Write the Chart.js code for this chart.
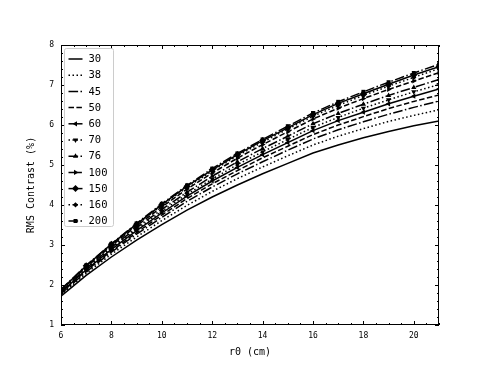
<!DOCTYPE html>
<html>
<head>
<meta charset="utf-8">
<script src="https://cdn.jsdelivr.net/npm/chart.js@4.4.0/dist/chart.umd.min.js"></script>
<style>
  html, body { margin: 0; padding: 0; background: #fff; }
  #wrap { width: 488px; height: 366px; }
</style>
</head>
<body>
<div id="wrap"><canvas id="chart" width="488" height="366"></canvas></div>
<script>
// r0 values (cm)
const r0 = [6, 7, 8, 9, 10, 11, 12, 13, 14, 15, 16, 17, 18, 19, 20, 21];

// RMS contrast (%) per series
const c30  = [1.72, 2.24, 2.70, 3.12, 3.51, 3.87, 4.20, 4.50, 4.78, 5.04, 5.30, 5.50, 5.68, 5.84, 5.98, 6.10];
const c38  = [1.75, 2.29, 2.77, 3.20, 3.61, 3.99, 4.34, 4.66, 4.95, 5.23, 5.50, 5.72, 5.91, 6.09, 6.24, 6.38];
const c45  = [1.78, 2.33, 2.82, 3.27, 3.69, 4.09, 4.45, 4.78, 5.08, 5.37, 5.65, 5.88, 6.08, 6.27, 6.44, 6.60];
const c50  = [1.80, 2.36, 2.85, 3.31, 3.75, 4.16, 4.53, 4.86, 5.18, 5.47, 5.76, 6.00, 6.21, 6.41, 6.59, 6.75];
const c60  = [1.82, 2.38, 2.89, 3.36, 3.80, 4.22, 4.60, 4.94, 5.26, 5.56, 5.86, 6.11, 6.32, 6.53, 6.72, 6.90];
const c70  = [1.83, 2.40, 2.91, 3.39, 3.84, 4.27, 4.65, 5.01, 5.33, 5.64, 5.94, 6.19, 6.42, 6.63, 6.83, 7.01];
const c76  = [1.84, 2.42, 2.94, 3.43, 3.89, 4.32, 4.72, 5.08, 5.41, 5.72, 6.03, 6.29, 6.52, 6.74, 6.94, 7.14];
const c100 = [1.87, 2.45, 2.98, 3.48, 3.95, 4.40, 4.80, 5.17, 5.51, 5.83, 6.15, 6.42, 6.66, 6.89, 7.10, 7.31];
const c150 = [1.88, 2.48, 3.02, 3.52, 4.01, 4.47, 4.88, 5.26, 5.61, 5.93, 6.26, 6.54, 6.78, 7.02, 7.25, 7.46];
const c160 = [1.88, 2.47, 3.00, 3.51, 3.99, 4.44, 4.85, 5.23, 5.57, 5.90, 6.22, 6.49, 6.74, 6.97, 7.19, 7.41];
const c200 = [1.89, 2.49, 3.03, 3.54, 4.03, 4.49, 4.91, 5.29, 5.64, 5.97, 6.30, 6.58, 6.83, 7.07, 7.30, 7.52];

const seriesNames = ['30', '38', '45', '50', '60', '70', '76', '100', '150', '160', '200'];
const seriesValues = [c30, c38, c45, c50, c60, c70, c76, c100, c150, c160, c200];

const xTicks = [6, 8, 10, 12, 14, 16, 18, 20];
const yTicks = [1, 2, 3, 4, 5, 6, 7, 8];

// styles (matplotlib-like cycle)
const SOLID = [], DOT = [1.5, 2.5], DASHDOT = [9.6, 2.4, 1.5, 2.4], DASH = [5.5, 2.4];
const dashes = [SOLID, DOT, DASHDOT, DASH, SOLID, DOT, DASHDOT, DASH, SOLID, DOT, DASHDOT];
const markers = [
  null, null, null, null,
  { style: 'triangle', rot: 270, r: 3 },
  { style: 'triangle', rot: 180, r: 3 },
  { style: 'triangle', rot: 0, r: 3 },
  { style: 'triangle', rot: 90, r: 3 },
  { style: 'rectRot', rot: 0, r: 3.5 },
  { style: 'rectRot', rot: 0, r: 2.6 },
  { style: 'rect', rot: 0, r: 2.8 }
];

const datasets = seriesNames.map((name, i) => ({
  label: name,
  data: r0.map((x, k) => ({ x: x, y: seriesValues[i][k] })),
  borderColor: '#000',
  backgroundColor: '#000',
  borderWidth: 1.5,
  borderDash: dashes[i],
  pointStyle: markers[i] ? markers[i].style : 'circle',
  pointRotation: markers[i] ? markers[i].rot : 0,
  pointRadius: markers[i] ? markers[i].r : 0,
  pointBorderWidth: 0,
  tension: 0,
  fill: false
}));

// frame, inward ticks and legend box
const decorPlugin = {
  id: 'decor',
  afterDraw(chart) {
    const { ctx, chartArea: a, scales: { x, y } } = chart;
    ctx.save();
    ctx.strokeStyle = '#000';
    ctx.lineWidth = 1;
    const seg = (x1, y1, x2, y2) => { ctx.beginPath(); ctx.moveTo(x1, y1); ctx.lineTo(x2, y2); ctx.stroke(); };

    // x ticks: major every 2, minor every 0.5
    for (let i = 0; i <= 30; i++) {
      const v = 6 + i * 0.5;
      const px = Math.round(x.getPixelForValue(v)) + 0.5;
      const len = (i % 4 === 0) ? 4 : 2;
      seg(px, a.bottom, px, a.bottom - len);
      seg(px, a.top, px, a.top + len);
    }
    // y ticks: major every 1, minor every 0.2
    for (let i = 0; i <= 35; i++) {
      const v = 1 + i * 0.2;
      const py = Math.round(y.getPixelForValue(v)) + 0.5;
      const len = (i % 5 === 0) ? 4 : 2;
      seg(a.left, py, a.left + len, py);
      seg(a.right, py, a.right - len, py);
    }
    ctx.strokeRect(Math.round(a.left) + 0.5, Math.round(a.top) + 0.5,
      Math.round(a.right - a.left) - 1, Math.round(a.bottom - a.top) - 1);

    // legend
    const bx = a.left + 3.5, by = a.top + 3.5, bw = 49, bh = 178;
    ctx.fillStyle = 'rgba(255,255,255,0.8)';
    ctx.strokeStyle = '#cccccc';
    ctx.beginPath();
    ctx.roundRect(bx, by, bw, bh, 2);
    ctx.fill();
    ctx.stroke();

    ctx.font = '10.5px "DejaVu Sans Mono"';
    ctx.textBaseline = 'middle';
    ctx.textAlign = 'left';
    chart.data.datasets.forEach((ds, i) => {
      const cy = by + 10.5 + i * 16.2;
      ctx.strokeStyle = '#000';
      ctx.fillStyle = '#000';
      ctx.lineWidth = 1.5;
      ctx.setLineDash(ds.borderDash);
      seg(bx + 4, cy, bx + 18, cy);
      ctx.setLineDash([]);
      if (markers[i]) {
        Chart.helpers.drawPoint(ctx, {
          pointStyle: markers[i].style,
          rotation: markers[i].rot,
          radius: markers[i].r,
          borderWidth: 0
        }, bx + 11, cy);
      }
      ctx.fillStyle = '#000';
      ctx.fillText(ds.label, bx + 24, cy + 0.5);
    });
    ctx.restore();
  }
};

const tickFont = { family: '"DejaVu Sans Mono"', size: 8 };
const titleFont = { family: '"DejaVu Sans Mono"', size: 10 };

new Chart(document.getElementById('chart').getContext('2d'), {
  type: 'line',
  data: { datasets: datasets },
  options: {
    responsive: false,
    animation: false,
    devicePixelRatio: 1,
    layout: { padding: { top: 45, right: 49, left: 0, bottom: 0 } },
    plugins: { legend: { display: false }, tooltip: { enabled: false } },
    scales: {
      x: {
        type: 'linear',
        min: 6,
        max: 21,
        afterBuildTicks: s => { s.ticks = xTicks.map(v => ({ value: v })); },
        afterFit: s => { s.height = 41; },
        grid: { display: false, drawTicks: false, tickLength: 0 },
        border: { display: false },
        ticks: { color: '#000', font: tickFont, padding: 6, maxRotation: 0 },
        title: { display: true, text: 'r0 (cm)', color: '#000', font: titleFont, padding: { top: 0, bottom: 8 } }
      },
      y: {
        type: 'linear',
        min: 1,
        max: 8,
        afterBuildTicks: s => { s.ticks = yTicks.map(v => ({ value: v })); },
        afterFit: s => { s.width = 61; },
        grid: { display: false, drawTicks: false, tickLength: 0 },
        border: { display: false },
        ticks: { color: '#000', font: tickFont, padding: 7 },
        title: { display: true, text: 'RMS Contrast (%)', color: '#000', font: titleFont, padding: { top: 25, bottom: 0 } }
      }
    }
  },
  plugins: [decorPlugin]
});
</script>
</body>
</html>
